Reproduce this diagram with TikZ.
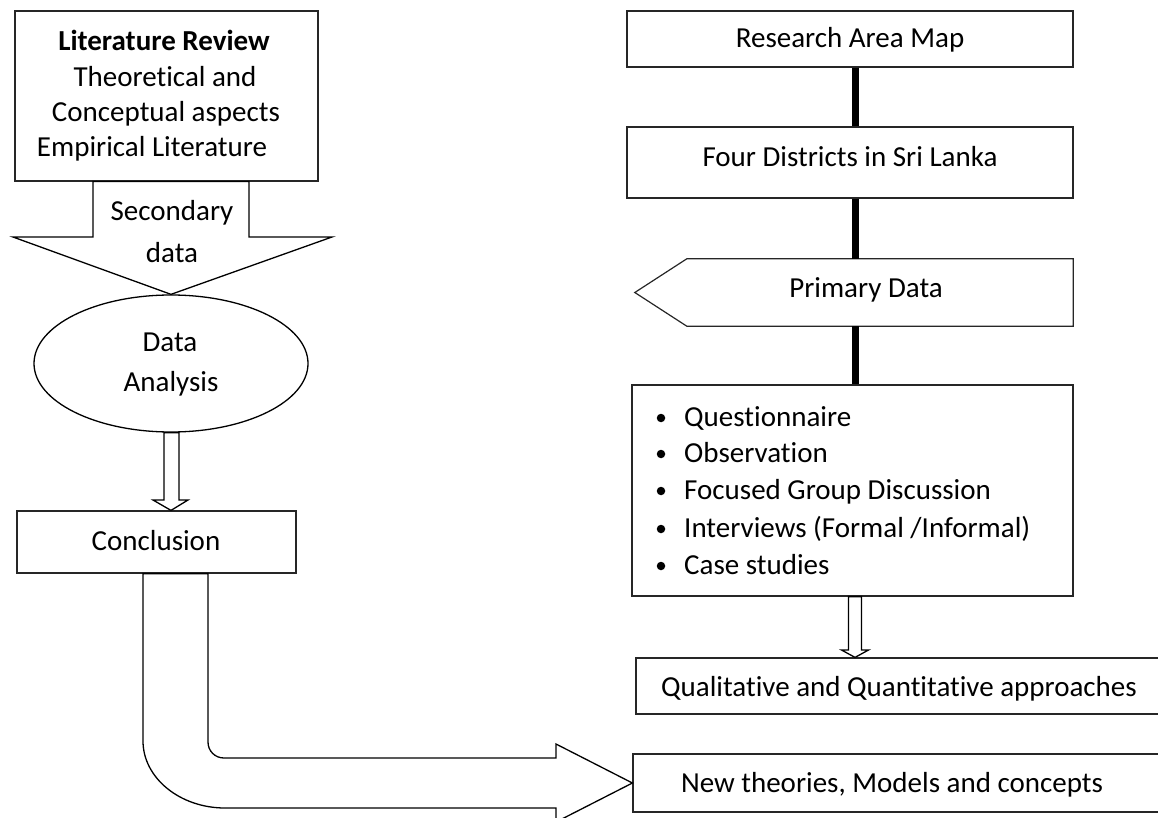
\documentclass[tikz,border=0pt]{standalone}
\usepackage{fontspec}
\setmainfont{Carlito}[Ligatures={NoCommon,NoContextual},Contextuals={NoAlternate}]
\usetikzlibrary{shapes.geometric,calc}
\newcommand{\nti}{t\kern0pt i}
\begin{document}
\begin{tikzpicture}[x=1pt,y=-1pt,
  box/.style={draw=black!85, line width=1.2pt, inner sep=0pt},
  txt/.style={font=\fontsize{29}{35}\selectfont, inner sep=0pt, anchor=base},
  spineline/.style={draw=black, line width=7pt},
  blockarrow/.style={draw=black, line width=1.3pt, fill=white, line join=miter},
  dotb/.style={circle, fill=black, inner sep=0pt, minimum size=8.5pt}]
\useasboundingbox (0,0) rectangle (1158,818);
% ---------------- left column ----------------
\node[box, minimum width=303pt, minimum height=170pt] (lit) at (166.5,96) {};
\node[ellipse, draw=black, line width=1.3pt, minimum width=274pt, minimum height=137pt, inner sep=0pt] (da) at (171,363.5) {};
\node[box, minimum width=279pt, minimum height=62pt] (conc) at (156.5,542) {};
% secondary data block arrow
\draw[blockarrow] (93,0 |- lit.south) -- (93,237) -- (13,237) -- (da.north) -- (332,237) -- (249,237) -- (249,0 |- lit.south) -- cycle;
% data analysis -> conclusion
\draw[blockarrow] (164,0 |- da.south) -- (164,500) -- (153,500) -- (171,0 |- conc.north) -- (188,500) -- (179,500) -- (179,0 |- da.south) -- cycle;
% ---------------- right column ----------------
\coordinate (spine) at (855,0);
\node[box, minimum width=446pt, minimum height=56pt] (ram) at (850,39) {};
\node[box, minimum width=446pt, minimum height=71pt] (fd) at (850,162.5) {};
\node[inner sep=0pt, minimum width=438pt, minimum height=67pt] (pd) at (854,292.5) {};
\node[box, minimum width=441pt, minimum height=211pt] (meth) at (852.5,490.5) {};
\node[box, minimum width=530pt, minimum height=56pt] (qq) at (901,686) {};
\node[box, minimum width=532pt, minimum height=58pt] (nt) at (899,783) {};
\draw[box] (pd.west) -- ($(pd.north west)+(52,0)$) -- (pd.north east) -- (pd.south east) -- ($(pd.south west)+(52,0)$) -- cycle;
\draw[spineline] (ram.south -| spine) -- (fd.north -| spine);
\draw[spineline] (fd.south -| spine) -- (pd.north -| spine);
\draw[spineline] (pd.south -| spine) -- (meth.north -| spine);
% methods -> qualitative
\draw[blockarrow] (848.5,0 |- meth.south) -- (848.5,650) -- (841.5,650) -- (855,0 |- qq.north) -- (868.5,650) -- (861.5,650) -- (861.5,0 |- meth.south) -- cycle;
% conclusion -> new theories bent block arrow
\draw[blockarrow] (143,0 |- conc.south) -- (143,741) .. controls (143,778) and (180,808) .. (225,808) -- (556,808) -- (556,822) -- (nt.west) -- (556,744) -- (556,758) -- (224,758) .. controls (215,758) and (208,751) .. (208,742) -- (208,0 |- conc.south) -- cycle;
% ---------------- texts ----------------
\node[txt, font=\fontsize{29}{35}\selectfont\bfseries] (lt1) at (164,51) {Literature Review};
\node[txt] (lt2) at (165,87) {Theore\nti cal and};
\node[txt] (lt3) at (166,122) {Conceptual aspects};
\node[txt] (lt4) at (152,157) {Empirical Literature};
\node[txt] (sd1) at (172,221) {Secondary};
\node[txt] (sd2) at (172,262) {data};
\node[txt] (da1) at (170,351) {Data};
\node[txt] (da2) at (171,391) {Analysis};
\node[txt] (ct) at (156,550) {Conclusion};
\node[txt] (rt) at (850,48) {Research Area Map};
\node[txt] (ft) at (850,167) {Four Districts in Sri Lanka};
\node[txt] (pt) at (866,297) {Primary Data};
\node[dotb] (b1) at (661,418) {};
\node[dotb] (b2) at (661,454) {};
\node[dotb] (b3) at (661,491) {};
\node[dotb] (b4) at (661,529) {};
\node[dotb] (b5) at (661,566) {};
\node[txt, anchor=base west] (m1) at (684,426) {Ques\nti onnaire};
\node[txt, anchor=base west] (m2) at (684,462) {Observa\nti on};
\node[txt, anchor=base west] (m3) at (684,499) {Focused Group Discussion};
\node[txt, anchor=base west] (m4) at (684,537) {Interviews (Formal /Informal)};
\node[txt, anchor=base west] (m5) at (684,574) {Case studies};
\node[txt] (qt) at (899,696) {Qualita\nti ve and Quan\nti ta\nti ve approaches};
\node[txt] (ntt) at (892,792) {New theories, Models and concepts};
\end{tikzpicture}
\end{document}
